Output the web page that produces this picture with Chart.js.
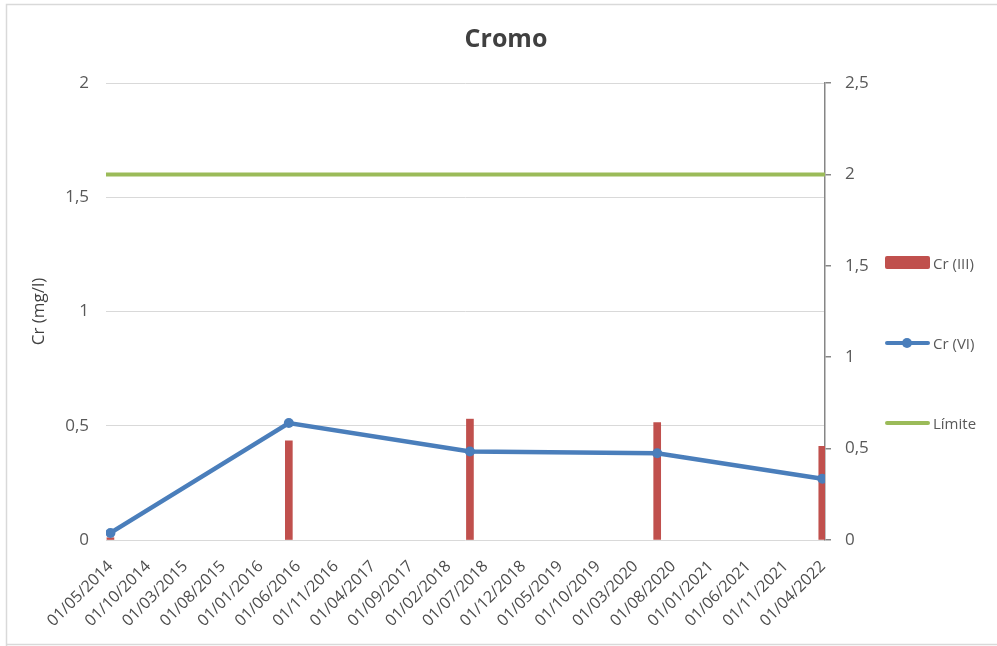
<!DOCTYPE html>
<html lang="es">
<head>
<meta charset="utf-8">
<title>Cromo</title>
<script src="https://cdn.jsdelivr.net/npm/chart.js@4.4.1/dist/chart.umd.min.js"></script>
<style>
  body { margin: 0; background: #fff; }
  #wrap { position: relative; width: 997px; height: 646px; }
  #chart { position: absolute; left: 0; top: 0; }
  .legend { position: absolute; left: 885px; top: 0; font: 15px 'Open Sans', sans-serif; color: #595959; }
  .item { position: absolute; left: 0; height: 20px; display: flex; align-items: center; white-space: nowrap; }
  .key { position: relative; width: 45px; height: 20px; margin-right: 3px; }
  .key .bar { position: absolute; left: 0; top: 3px; width: 45px; height: 13px; border-radius: 2px; background: #C0504D; }
  .key .line { position: absolute; left: 0; top: 8px; width: 45px; height: 4px; border-radius: 2px; }
  .key .dot { position: absolute; left: 17px; top: 5px; width: 10px; height: 10px; border-radius: 50%; background: #4A7EBB; }
</style>
</head>
<body>
<div id="wrap">
  <canvas id="chart" width="997" height="646"></canvas>
  <div class="legend">
    <div class="item" style="top:253px"><span class="key"><span class="bar"></span></span>Cr (III)</div>
    <div class="item" style="top:333px"><span class="key"><span class="line" style="background:#4A7EBB"></span><span class="dot"></span></span>Cr (VI)</div>
    <div class="item" style="top:413px"><span class="key"><span class="line" style="background:#9BBB59"></span></span>Límite</div>
  </div>
</div>
<script>
  // Etiquetas del eje de fechas (cada 5 meses)
  const xLabels = [
    '01/05/2014', '01/10/2014', '01/03/2015', '01/08/2015', '01/01/2016',
    '01/06/2016', '01/11/2016', '01/04/2017', '01/09/2017', '01/02/2018',
    '01/07/2018', '01/12/2018', '01/05/2019', '01/10/2019', '01/03/2020',
    '01/08/2020', '01/01/2021', '01/06/2021', '01/11/2021', '01/04/2022'
  ];
  // Fechas de muestreo
  const sampleDates = ['01/05/2014', '24/04/2016', '29/04/2018', '28/05/2020', '29/03/2022'];
  // Concentraciones (mg/l)
  const cr3 = [0.01, 0.434, 0.529, 0.514, 0.41];
  const cr6 = [0.031, 0.512, 0.387, 0.38, 0.268];
  // Valor límite (eje secundario)
  const limite = 2;

  const FONT = "'Open Sans', sans-serif";
  const TEXT = '#595959';
  const DAY = 86400000;
  const origin = Date.UTC(2014, 4, 1);

  // dd/mm/yyyy -> días desde el origen
  function toDay(s) {
    const [d, m, y] = s.split('/').map(Number);
    return (Date.UTC(y, m - 1, d) - origin) / DAY;
  }

  const tickDays = xLabels.map(toDay);
  const sampleDays = sampleDates.map(toDay);
  const xMin = tickDays[0] - 18;
  const xMax = tickDays[tickDays.length - 1] + 8;

  const fmt = v => String(v).replace('.', ',');

  // Fondo blanco, marco gris y título
  const frame = {
    id: 'frame',
    beforeDraw(chart) {
      const c = chart.ctx;
      c.save();
      c.fillStyle = '#fff';
      c.fillRect(0, 0, chart.width, chart.height);
      c.strokeStyle = '#D9D9D9';
      c.lineWidth = 1.5;
      c.beginPath();
      c.moveTo(6.5, 646);
      c.lineTo(6.5, 4.5);
      c.lineTo(997, 4.5);
      c.moveTo(6.5, 644.5);
      c.lineTo(997, 644.5);
      c.stroke();
      c.restore();
    },
    afterDraw(chart) {
      const c = chart.ctx;
      c.save();
      c.fillStyle = '#404040';
      c.font = "bold 25px " + FONT;
      c.textAlign = 'center';
      c.textBaseline = 'middle';
      c.fillText('Cromo', 506, 40);
      c.restore();
    }
  };

  new Chart(document.getElementById('chart').getContext('2d'), {
    type: 'bar',
    data: {
      datasets: [
        {
          type: 'bar',
          label: 'Cr (III)',
          data: sampleDays.map((x, i) => ({ x, y: cr3[i] })),
          backgroundColor: '#C0504D',
          barThickness: 7,
          yAxisID: 'y',
          order: 3
        },
        {
          type: 'line',
          label: 'Cr (VI)',
          data: sampleDays.map((x, i) => ({ x, y: cr6[i] })),
          borderColor: '#4A7EBB',
          backgroundColor: '#4A7EBB',
          borderWidth: 4.5,
          pointRadius: 5,
          pointBorderWidth: 0,
          tension: 0,
          yAxisID: 'y',
          order: 1
        },
        {
          type: 'line',
          label: 'Límite',
          data: [{ x: xMin, y: limite }, { x: xMax, y: limite }],
          borderColor: '#9BBB59',
          borderWidth: 4,
          borderCapStyle: 'round',
          pointRadius: 0,
          yAxisID: 'y2',
          order: 2
        }
      ]
    },
    options: {
      responsive: false,
      animation: false,
      devicePixelRatio: 1,
      layout: { padding: { top: 83 } },
      plugins: {
        legend: { display: false },
        tooltip: { enabled: false },
        title: { display: false }
      },
      scales: {
        x: {
          type: 'linear',
          min: xMin,
          max: xMax,
          offset: false,
          grid: { display: false },
          border: { display: false },
          afterBuildTicks: s => { s.ticks = tickDays.map(v => ({ value: v })); },
          afterFit: s => { s.height = 106; },
          ticks: {
            autoSkip: false,
            minRotation: 45,
            maxRotation: 45,
            padding: 9,
            color: '#4D4D4D',
            font: { family: FONT, size: 16 },
            callback: (v, i) => xLabels[i]
          }
        },
        y: {
          position: 'left',
          min: 0,
          max: 2,
          grid: { color: '#D9D9D9', drawTicks: false },
          border: { display: false },
          ticks: { stepSize: 0.5, padding: 17, color: TEXT, font: { family: FONT, size: 17 }, callback: fmt },
          title: {
            display: true,
            text: 'Cr (mg/l)',
            color: '#404040',
            font: { family: FONT, size: 17 },
            padding: { top: 29, bottom: 0 }
          },
          afterFit: s => { s.width = 106; }
        },
        y2: {
          position: 'right',
          min: 0,
          max: 2.5,
          grid: { drawOnChartArea: false, color: '#868686', tickLength: 6, lineWidth: 1.5 },
          border: { display: true, color: '#868686', width: 1.5 },
          ticks: { stepSize: 0.5, padding: 14, color: TEXT, font: { family: FONT, size: 17 }, callback: fmt },
          afterFit: s => { s.width = 172; }
        }
      }
    },
    plugins: [frame]
  });
</script>
</body>
</html>
